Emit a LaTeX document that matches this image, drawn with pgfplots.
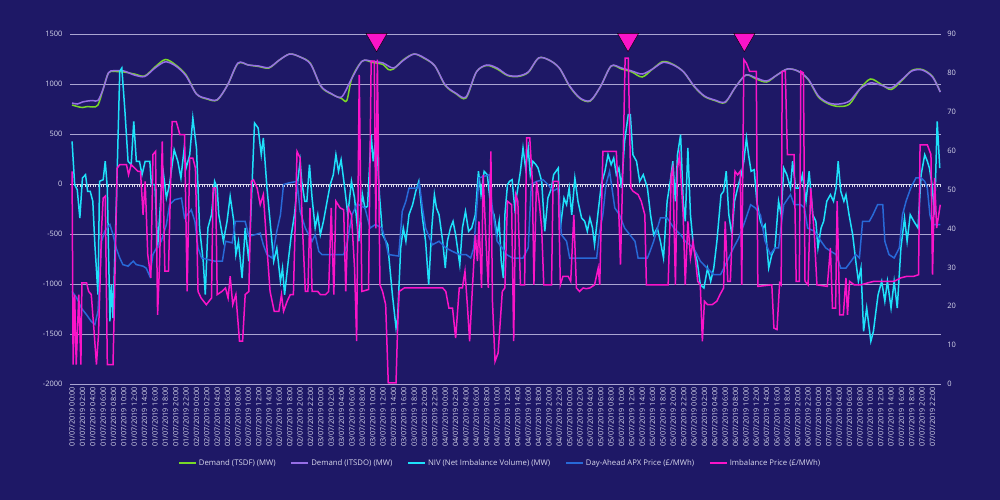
\documentclass[border=0pt]{standalone}
\usepackage{pgfplots}
\pgfplotsset{compat=1.18}
\usepackage{fontspec}
\setmainfont{Open Sans}
\definecolor{bg}{RGB}{30,24,102}
\definecolor{gridc}{RGB}{170,165,210}
\definecolor{txt}{RGB}{215,215,235}
\definecolor{tsdf}{RGB}{120,215,40}
\definecolor{itsdo}{RGB}{150,110,230}
\definecolor{niv}{RGB}{30,225,250}
\definecolor{apx}{RGB}{40,105,215}
\definecolor{imb}{RGB}{250,20,200}
\begin{document}
\begin{tikzpicture}
\fill[bg] (-70bp,-116bp) rectangle (930bp,384bp);
\pgfplotsset{
  common/.style={
    scale only axis, width=870.8bp, height=350bp,
    xmin=-0.4, xmax=167.6,
    axis line style={draw=none}, major tick length=0pt, minor tick length=0pt,
    tick label style={font=\fontsize{7.5}{8}\selectfont, text=txt},
    /pgf/number format/assume math mode=true,
    /pgf/number format/1000 sep={},
    legend image code/.code={\draw[#1, line width=1.7bp] (0bp,0bp) -- (17bp,0bp);},
  },
}
\begin{axis}[common,
  ymin=-2000, ymax=1500,
  ytick={-2000,-1500,...,1500},
  extra y ticks={-2000,-1500,-1000,-500,500,1000,1500},
  extra y tick labels={},
  extra y tick style={ymajorgrids=true, grid style={gridc, line width=1bp}},
  yticklabel style={xshift=-4bp},
  xtick={0,2,...,166},
  xticklabel={\pgfmathtruncatemacro{\myt}{round(\tick)}\pgfmathtruncatemacro{\dd}{floor(\myt/24)+1}\pgfmathtruncatemacro{\hh}{\myt-24*(\dd-1)}0\dd/07/2019 \ifnum\hh<10 0\fi\hh:00},
  xticklabel style={rotate=90, anchor=east, font=\fontsize{7.3}{8}\selectfont, yshift=0bp},
]
\draw[txt, line width=0.7bp] (axis cs:-0.4,0) -- (axis cs:167.6,0);
\draw[txt, line width=3bp, dash pattern=on 0.7bp off 1.89bp, yshift=-1.5bp] (axis cs:0,0) -- (axis cs:167.6,0);
\addplot[tsdf, line width=1.5bp, smooth] table[row sep=\\] {x y\\
0 790\\1 775\\2 765\\3 775\\4 770\\5 790\\6 950\\7 1110\\8 1125\\10 1120\\12 1100\\14 1080\\16 1170\\18 1245\\20 1190\\22 1090\\24 900\\26 850\\28 840\\30 990\\32 1205\\34 1190\\36 1175\\38 1160\\40 1240\\42 1300\\44 1270\\46 1205\\48 975\\50 900\\52 855\\53 835\\54 1060\\56 1230\\58 1215\\60 1195\\61 1145\\62 1150\\64 1245\\66 1300\\68 1255\\70 1180\\72 985\\74 905\\76 860\\78 1120\\80 1185\\82 1150\\84 1085\\86 1075\\88 1115\\90 1260\\92 1240\\94 1160\\96 975\\98 855\\100 830\\102 980\\104 1180\\106 1150\\108 1120\\110 1070\\112 1150\\114 1225\\116 1195\\118 1120\\120 975\\122 875\\124 835\\126 815\\128 970\\130 1090\\132 1050\\134 1020\\136 1090\\138 1150\\140 1130\\142 1045\\144 870\\146 800\\148 775\\150 800\\152 950\\154 1050\\156 1000\\158 945\\160 1030\\162 1135\\164 1145\\166 1075\\167.5 920\\
};
\addplot[itsdo, line width=1.5bp, smooth] table[row sep=\\] {x y\\
0 810\\1 800\\2 820\\3 830\\4 835\\5 835\\6 950\\7 1110\\8 1133\\10 1130\\12 1090\\14 1075\\16 1160\\18 1222\\20 1180\\22 1080\\24 900\\26 855\\28 843\\30 990\\32 1210\\34 1190\\36 1180\\38 1165\\40 1240\\42 1300\\44 1270\\46 1200\\48 980\\50 905\\52 870\\54 1060\\56 1230\\58 1225\\60 1210\\62 1160\\64 1240\\66 1300\\68 1260\\70 1180\\72 990\\74 910\\76 870\\78 1120\\80 1190\\82 1160\\84 1090\\86 1080\\88 1120\\90 1260\\92 1240\\94 1160\\96 980\\98 860\\100 835\\102 980\\104 1180\\106 1160\\108 1130\\110 1100\\112 1150\\114 1215\\116 1190\\118 1120\\120 980\\122 880\\124 840\\126 820\\128 970\\130 1090\\132 1060\\134 1030\\136 1090\\138 1150\\140 1130\\142 1050\\144 880\\146 810\\148 800\\150 830\\152 950\\154 1010\\156 990\\158 960\\160 1040\\162 1130\\164 1140\\166 1070\\167.5 920\\
};
\addplot[niv, line width=1.5bp] table[row sep=\\] {x y\\
0 427\\0.5 -7\\1 -57\\1.5 -340\\2 60\\2.6 93\\3 -73\\3.5 -73\\4 -173\\4.4 -607\\5 -1107\\5.3 27\\6 43\\6.4 227\\6.8 -40\\7.3 -1373\\7.6 -1007\\7.9 -1340\\8.5 -273\\9.2 1127\\9.6 1160\\10.2 727\\10.8 227\\11.4 193\\11.9 627\\12.4 227\\13 227\\13.5 93\\14.1 227\\15 227\\15.3 -7\\16 -7\\16.5 -640\\17.5 160\\18.2 -140\\18.8 -7\\19.7 343\\20.4 227\\21 60\\21.6 343\\22 160\\22.7 293\\23.3 660\\24 360\\24.6 -440\\25.3 -773\\25.7 -1107\\26.2 -440\\26.9 -307\\27.5 27\\28 -40\\28.3 -307\\29.2 -573\\29.9 -373\\30.5 -123\\31.2 -373\\31.6 -707\\32.1 -573\\32.8 -940\\33.4 -440\\34.1 -773\\34.7 -40\\35.2 610\\35.9 560\\36.5 293\\36.9 460\\37.6 -40\\38.2 -373\\38.9 -773\\39.5 -640\\40.2 -973\\40.6 -840\\41 -1107\\41.7 -773\\42.3 -507\\42.9 -307\\43.6 60\\44 227\\44.3 27\\44.9 -173\\45.3 -173\\45.8 193\\46.3 -140\\46.9 -440\\47.4 -307\\47.9 -507\\48.5 -373\\49.2 -173\\49.8 -7\\50.4 93\\50.9 293\\51.4 127\\51.9 243\\52.6 -40\\53.2 -307\\53.9 27\\54.5 -140\\55.3 -573\\56 -100\\56.5 -240\\57 -223\\57.7 493\\58.1 227\\58.7 510\\59.3 -107\\59.9 -507\\60.9 -607\\61.8 -1107\\62.5 -1440\\62.8 -1340\\63.4 -640\\63.9 -440\\64.4 -573\\65 -307\\65.7 -207\\66.3 -73\\66.9 27\\67.6 -340\\68.2 -573\\68.8 -1007\\69.4 -440\\69.9 -107\\70.3 -240\\70.8 -307\\71.5 -573\\72 -840\\72.4 -573\\73 -440\\73.5 -373\\74 -507\\74.8 -807\\75.3 -440\\75.9 -273\\76.5 -473\\77.1 -440\\77.8 -307\\78.4 127\\78.9 -107\\79.5 127\\80.1 93\\80.8 -240\\81.4 -307\\82 -507\\82.4 -373\\82.8 -773\\83.2 -940\\83.5 -307\\84 -7\\84.4 27\\84.9 43\\85.4 -240\\86 -40\\86.5 127\\87 360\\87.5 160\\88 360\\88.4 93\\88.9 227\\89.5 193\\89.9 160\\90.6 27\\91.2 -473\\91.8 -140\\92.5 -40\\92.9 93\\93.8 160\\94.2 -440\\94.9 -140\\95.4 -207\\95.9 -40\\96.4 -307\\97 60\\97.6 -173\\98.3 -340\\98.9 -373\\99.4 -473\\99.9 -340\\100.4 -440\\100.8 -607\\101.5 -273\\102.1 -7\\102.8 127\\103.4 293\\104 193\\104.5 260\\105 93\\105.5 160\\106 -40\\106.6 427\\107.3 693\\107.7 693\\108.2 293\\108.9 227\\109.5 27\\110.2 93\\111 -40\\111.6 -307\\112.2 -507\\112.9 -440\\113.5 -573\\114.1 -740\\114.8 -173\\115.4 27\\115.9 227\\116.4 -173\\116.8 293\\117.4 493\\117.9 -173\\118.3 -373\\118.8 360\\119.3 -307\\119.9 -640\\120.6 -773\\121.2 -1007\\121.9 -1040\\122.6 -840\\123.2 -973\\123.8 -840\\124.4 -573\\125.2 -107\\125.7 -73\\126.2 127\\126.7 -307\\127.3 -507\\127.8 -173\\128.4 -40\\129.1 93\\129.6 227\\130.1 460\\130.5 293\\131 127\\131.6 143\\132.1 -173\\132.8 -373\\133.3 -440\\133.7 -407\\134.4 -840\\135 -707\\135.6 -640\\136.3 -173\\136.8 -307\\137.3 160\\137.9 93\\138.6 -40\\139 227\\139.6 -40\\140.3 -40\\140.9 93\\141.6 -173\\142.2 127\\142.9 -307\\143.5 -373\\143.9 -640\\144.5 -440\\145 -373\\145.6 -173\\146.3 -107\\146.9 -173\\147.4 -40\\147.8 227\\148.3 -73\\148.9 -173\\149.3 -107\\149.9 -307\\150.6 -507\\151.2 -773\\151.7 -973\\152.2 -840\\152.7 -1473\\153.3 -1240\\154.1 -1573\\154.6 -1473\\155 -1307\\155.5 -1107\\156.2 -973\\156.8 -1173\\157.3 -973\\158 -1240\\158.6 -973\\159.2 -1240\\159.9 -640\\160.6 -340\\161.1 -573\\161.7 -307\\162.4 -373\\163.2 -440\\163.8 93\\164.5 293\\165 227\\165.4 160\\165.9 -7\\166.4 -307\\166.9 627\\167.4 160\\
};
\end{axis}
\begin{axis}[common,
  ymin=0, ymax=90,
  ytick={0,10,...,90},
  yticklabel pos=right,
  yticklabel style={xshift=3bp},
  xtick=\empty,
  clip=false,
  legend style={draw=none, fill=none, text=txt, font=\fontsize{7.8}{9}\selectfont,
    at={(0.494,-0.2257)}, anchor=center, legend columns=5,
    /tikz/every even column/.append style={column sep=13bp},
    inner sep=0pt},
]
\addlegendimage{tsdf}\addlegendentry{Demand (TSDF) (MW)}
\addlegendimage{itsdo}\addlegendentry{Demand (ITSDO) (MW)}
\addlegendimage{niv}\addlegendentry{NIV (Net Imbalance Volume) (MW)}
\addplot[apx, line width=1.5bp] table[row sep=\\] {x y\\
0 23.8\\0.9 22.1\\1.8 19.5\\2.8 17.8\\3.7 16.1\\4.4 15.3\\5 18.7\\5.7 36.7\\6.3 39.3\\7.3 41.0\\7.9 38.4\\8.5 35.0\\9.2 32.4\\9.8 30.7\\10.8 30.3\\11.8 31.6\\12.4 30.7\\13.7 30.3\\14.3 29.8\\15 27.7\\15.6 33.3\\16.3 35.0\\17.2 36.7\\18.2 41.0\\18.8 46.1\\19.8 47.4\\21.1 47.8\\21.7 42.7\\23 44.8\\23.7 41.8\\24.3 35.0\\25 32.4\\26.2 32.0\\27.5 31.6\\29 31.6\\29.6 36.7\\30.9 36.3\\31.5 41.8\\33.4 41.8\\34.1 38.0\\35.3 38.4\\36.3 38.8\\36.9 35.8\\37.6 33.3\\38.6 32.4\\39.5 39.3\\40.2 43.5\\40.8 51.3\\41.8 51.7\\43.4 52.1\\44 44.4\\45 40.1\\46.3 36.7\\46.9 38.4\\47.6 34.1\\48.2 33.3\\50.1 33.3\\52.4 33.3\\53 35.8\\54 43.5\\55 46.3\\56.5 45.3\\57.5 40.1\\58.5 41.0\\59.8 40.1\\60.5 36.7\\61 33.3\\63 32.9\\63.7 44.4\\64.4 47.0\\65 50.4\\66.7 50.4\\67 51.7\\67.6 45.3\\68.2 40.1\\69.5 35.8\\70.8 36.7\\72.1 35.0\\73.4 34.1\\74.7 33.3\\76 33.3\\76.9 32.4\\77.5 35.0\\78.5 53.0\\80.5 53.8\\81 46.1\\82 36.7\\83 35.0\\83.8 33.3\\85 32.4\\87 32.4\\88 35.0\\88.6 51.3\\89.6 52.1\\90.9 52.5\\91.8 51.3\\92.8 49.6\\93.8 50.4\\94.4 38.4\\95.4 36.7\\96 32.4\\101.2 32.4\\101.7 38.4\\102.4 43.5\\103 51.3\\103.7 54.7\\104.7 45.3\\105.6 43.5\\106.6 40.1\\107.6 38.4\\108.6 36.7\\109.2 32.4\\111 32.4\\111.5 34.1\\112.2 36.7\\113.5 42.7\\114.8 42.7\\116.1 40.1\\117.4 38.4\\118.3 36.7\\119.9 35.0\\121.2 31.6\\122.5 29.8\\123.8 28.1\\125.1 28.1\\126.4 31.6\\127.6 35.0\\128.6 37.5\\129.6 41.0\\130.9 46.1\\131.8 45.3\\132.8 43.5\\133.7 36.7\\134.7 33.3\\135.6 35.0\\136.3 35.0\\137.3 46.1\\138.6 48.7\\139.3 46.1\\140.6 46.1\\141.3 45.3\\141.9 40.1\\143.2 39.3\\144.5 36.7\\145.4 35.0\\146.4 34.1\\147.4 33.3\\148.3 29.8\\149.3 29.8\\150.3 31.6\\151.2 33.3\\151.9 32.4\\152.5 41.8\\153.8 41.8\\154.5 43.5\\155.4 46.1\\156.4 46.1\\156.8 36.7\\157.6 33.3\\158.6 32.4\\159.6 35.0\\160.2 43.5\\160.9 47.0\\161.8 50.4\\162.8 53.0\\163.8 53.0\\164.5 52.1\\165 50.4\\165.5 43.5\\166 41.0\\167.5 41.0\\
};
\addlegendentry{Day-Ahead APX Price (£/MWh)}
\addplot[imb, line width=1.5bp] table[row sep=\\] {x y\\
0 54.7\\0.2 5.0\\0.5 23.0\\0.8 5.0\\1.3 23.0\\1.7 5.0\\1.9 26.0\\2.8 26.0\\3.2 23.8\\3.7 23.0\\4.2 14.4\\4.7 5.0\\5.1 12.7\\5.7 40.1\\6 47.8\\6.4 48.3\\6.8 5.0\\7.9 5.0\\8.2 23.0\\8.7 55.5\\9.2 56.4\\10.5 56.4\\10.9 53.8\\11.4 56.4\\12.1 55.5\\12.7 54.7\\13.2 54.7\\13.7 43.5\\14.1 52.1\\14.6 33.3\\15.2 27.3\\15.6 59.0\\16.1 59.8\\16.5 17.8\\16.9 31.6\\17.4 62.4\\17.9 29.0\\18.6 29.0\\19.3 67.5\\20.1 67.5\\20.8 64.1\\21.7 64.1\\22.2 23.8\\22.7 58.1\\23.3 58.1\\23.8 55.5\\24.3 23.8\\24.9 22.1\\25.9 20.4\\26.9 22.1\\27.2 50.4\\27.7 50.4\\28 23.0\\28.9 23.8\\29.6 24.7\\30.1 22.1\\30.5 27.7\\31 20.4\\31.6 23.0\\32.3 11.0\\32.9 11.0\\33.4 23.0\\34.1 23.8\\34.6 52.1\\35 52.5\\35.7 50.4\\36.3 46.1\\36.9 48.7\\37.6 35.0\\38.2 23.8\\39 18.7\\39.9 18.7\\40.4 23.0\\40.8 18.7\\41.5 21.3\\42.1 23.0\\42.7 23.0\\43.4 59.8\\44 58.1\\44.4 41.8\\45 23.8\\45.5 23.8\\45.9 45.3\\46.3 23.8\\47.4 23.8\\47.9 23.0\\48.9 23.0\\49.5 23.8\\50 45.3\\50.5 23.0\\50.9 47.0\\51.7 45.3\\52.4 44.8\\52.8 23.8\\53.3 45.3\\53.9 43.5\\54.5 29.8\\54.9 11.0\\55.4 79.5\\55.9 23.8\\57.2 24.3\\57.7 83.0\\58.3 83.0\\58.6 40.0\\58.9 83.4\\59.4 25.5\\59.9 23.8\\60.5 20.4\\61 0.3\\62.5 0.3\\62.8 14.4\\63.1 23.8\\64.1 24.7\\67.6 24.7\\71.5 24.7\\72.1 23.8\\72.7 19.5\\73.4 19.5\\74 11.8\\74.7 24.7\\75.3 24.7\\75.8 29.0\\76.3 19.5\\76.7 11.0\\77.2 23.8\\77.8 38.4\\78.2 31.6\\78.5 41.8\\79 24.7\\79.3 53.8\\79.8 38.4\\80.3 24.7\\80.8 59.8\\81.1 21.3\\81.6 5.8\\82.2 8.0\\83 23.8\\83.5 24.7\\84 47.0\\84.8 46.1\\85.2 11.0\\85.6 48.7\\86 47.0\\86.5 25.5\\87.3 25.5\\87.7 63.3\\88.3 63.3\\88.8 52.1\\89.1 25.5\\89.6 52.1\\90.1 47.0\\90.6 40.1\\91 25.5\\92.5 25.5\\92.8 52.1\\93.8 52.1\\94.2 25.5\\94.7 27.7\\95.7 27.7\\96.2 26.4\\96.8 43.5\\97.3 24.7\\97.9 23.8\\98.6 24.7\\99.2 24.5\\99.9 24.7\\100.8 25.5\\101.5 29.8\\101.8 25.5\\102.4 59.8\\105 59.8\\105.3 51.3\\105.8 30.7\\106.3 57.3\\106.7 83.8\\107.3 83.8\\107.8 50.4\\108.2 49.6\\109.2 48.7\\109.8 47.0\\110.5 43.5\\110.8 25.5\\115 25.5\\115.6 53.8\\115.9 55.5\\116.4 25.5\\116.8 55.5\\117.2 59.0\\117.9 43.5\\118.3 25.5\\118.8 41.8\\119.3 32.4\\119.8 36.7\\120.3 31.6\\120.7 26.4\\121.2 25.5\\121.6 11.0\\122 21.3\\122.6 20.4\\123.5 20.4\\124.4 21.3\\125 23.0\\125.7 24.7\\126 41.8\\126.5 26.4\\127 26.4\\127.5 43.5\\127.9 54.7\\128.4 53.8\\128.9 54.7\\129.2 25.5\\129.6 83.4\\130.1 82.5\\130.7 80.4\\132 80.4\\132.3 25.1\\135 25.5\\135.4 14.4\\136 14.0\\136.5 26.0\\136.8 25.5\\137 80.4\\137.6 80.4\\138 59.0\\139.3 59.0\\139.7 26.4\\140.3 26.4\\140.6 80.4\\141.1 80.0\\141.4 26.4\\142 25.5\\142.5 50.4\\143.2 38.4\\143.7 25.5\\145.7 25.1\\146.3 35.0\\146.7 19.5\\147.3 19.5\\147.6 47.0\\148.1 17.8\\148.8 17.8\\149.3 27.3\\149.6 17.8\\150 26.4\\150.9 25.5\\152.2 25.5\\153.5 26.0\\154.7 26.4\\158.6 26.4\\159.9 27.3\\161.1 27.7\\162.4 27.7\\163.3 28.1\\163.6 61.5\\165 61.5\\165.7 59.0\\166 28.1\\166.4 53.0\\166.8 40.1\\167.5 46.1\\
};
\addlegendentry{Imbalance Price (£/MWh)}
\addplot[only marks, mark=triangle*, mark size=12.3bp, mark options={rotate=180, fill=imb, draw=none}, forget plot] coordinates {(58.74,88.6) (107.26,88.6) (129.7,88.6)};
\end{axis}
\pgfresetboundingbox
\useasboundingbox (-70bp,-116bp) rectangle (930bp,384bp);
\end{tikzpicture}
\end{document}
